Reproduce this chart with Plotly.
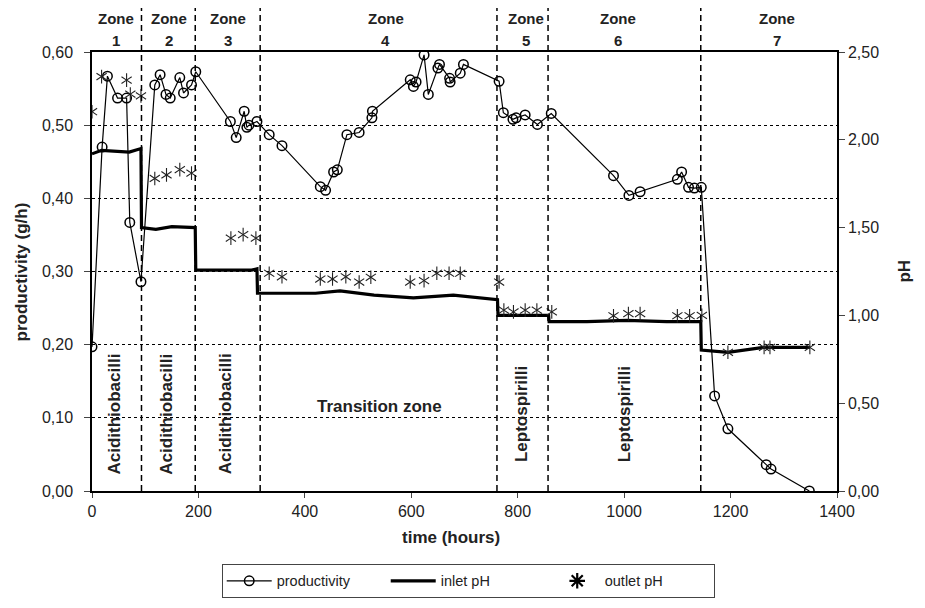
import plotly.graph_objects as go

# ---------------- data ----------------
prod_t = [0, 19, 29, 48, 65, 71, 92, 118, 128, 139, 147, 165, 172, 187, 195,
          260, 271, 286, 291, 295, 310, 333, 357, 429, 439, 454, 461, 479, 502,
          526, 527, 598, 604, 609, 624, 632, 650, 653, 672, 673, 692, 698, 765,
          773, 791, 797, 814, 837, 863, 980, 1009, 1030, 1100, 1108, 1121, 1132,
          1145, 1170, 1195, 1267, 1276, 1348]
prod_v = [0.197, 0.470, 0.567, 0.537, 0.537, 0.367, 0.286, 0.555, 0.569, 0.542,
          0.537, 0.565, 0.544, 0.555, 0.573, 0.505, 0.483, 0.519, 0.497, 0.500,
          0.505, 0.487, 0.472, 0.416, 0.411, 0.436, 0.439, 0.487, 0.490, 0.510,
          0.519, 0.562, 0.553, 0.559, 0.596, 0.542, 0.578, 0.583, 0.564, 0.559,
          0.571, 0.583, 0.560, 0.517, 0.508, 0.510, 0.514, 0.501, 0.516, 0.431,
          0.404, 0.409, 0.426, 0.436, 0.415, 0.414, 0.415, 0.130, 0.085, 0.036,
          0.030, 0.000]

inlet_t = [0, 18, 70, 92, 93, 120, 150, 190, 194, 195, 250, 300, 310, 311, 360,
           420, 466, 530, 604, 679, 762, 763, 800, 858, 859, 930, 1005, 1080,
           1144, 1145, 1195, 1262, 1349]
inlet_v = [1.92, 1.94, 1.93, 1.95, 1.50, 1.49, 1.505, 1.50, 1.50, 1.258, 1.258,
           1.258, 1.265, 1.126, 1.126, 1.126, 1.14, 1.115, 1.10, 1.115, 1.09,
           1.00, 1.00, 1.00, 0.964, 0.964, 0.972, 0.964, 0.964, 0.803, 0.79,
           0.818, 0.818]

out_t = [0, 18, 65, 72, 92, 118, 140, 165, 187, 261, 284, 308, 333, 357, 429,
         452, 477, 502, 524, 598, 624, 648, 671, 692, 765, 774, 792, 814, 836,
         864, 980, 1008, 1030, 1100, 1123, 1146, 1195, 1263, 1274, 1349]
out_v = [2.16, 2.36, 2.34, 2.26, 2.25, 1.78, 1.80, 1.83, 1.81, 1.44, 1.46, 1.44,
         1.24, 1.22, 1.207, 1.207, 1.22, 1.19, 1.217, 1.19, 1.198, 1.24, 1.24,
         1.24, 1.19, 1.03, 1.02, 1.03, 1.03, 1.02, 0.998, 1.01, 1.01, 0.998,
         0.998, 1.00, 0.79, 0.818, 0.818, 0.818]

zone_bounds = [93, 194, 316, 761, 857, 1144]
zone_names = ["1", "2", "3", "4", "5", "6", "7"]
zone_label_t = [45, 145, 255, 552, 815, 988, 1287]

x_ticks = [0, 200, 400, 600, 800, 1000, 1200, 1400]
y1_ticks = [0, 0.1, 0.2, 0.3, 0.4, 0.5, 0.6]
y1_ticktext = ["0,00", "0,10", "0,20", "0,30", "0,40", "0,50", "0,60"]
y2_ticks = [0, 0.5, 1.0, 1.5, 2.0, 2.5]
y2_ticktext = ["0,00", "0,50", "1,00", "1,50", "2,00", "2,50"]

bact_labels = ["Acidithiobacilli", "Acidithiobacilli", "Acidithiobacilli",
               "Leptospirilli", "Leptospirilli"]
bact_t = [42, 140, 250, 806, 1000]

FONT = "Liberation Sans, Arial, Helvetica, sans-serif"
INK = "#222"

fig = go.Figure()
fig.add_trace(go.Scatter(
    x=prod_t, y=prod_v, name="productivity", mode="lines+markers",
    line=dict(color="black", width=1.2),
    marker=dict(symbol="circle-open", size=9.5, color="black",
                line=dict(width=1.5, color="black")),
    yaxis="y"))
fig.add_trace(go.Scatter(
    x=inlet_t, y=inlet_v, name="inlet pH", mode="lines",
    line=dict(color="black", width=3.2), yaxis="y2"))
# outlet pH: six-ray star drawn as two overlapping Y markers
fig.add_trace(go.Scatter(
    x=out_t, y=out_v, name="outlet pH", mode="markers", legendgroup="out",
    showlegend=False,
    marker=dict(symbol="y-up-open", size=8.5, color=INK,
                line=dict(width=1.1, color=INK)),
    yaxis="y2"))
fig.add_trace(go.Scatter(
    x=out_t, y=out_v, name="outlet pH", mode="markers", legendgroup="out",
    showlegend=False,
    marker=dict(symbol="y-down-open", size=8.5, color=INK,
                line=dict(width=1.1, color=INK)),
    yaxis="y2"))
# legend-only entry for outlet pH
fig.add_trace(go.Scatter(
    x=[None], y=[None], name="outlet pH", mode="markers", legendgroup="out",
    marker=dict(symbol="asterisk-open", size=13, color="black",
                line=dict(width=2.2, color="black")),
    yaxis="y2"))

shapes = []
for b in zone_bounds:
    shapes.append(dict(type="line", xref="x", yref="paper", x0=b, x1=b,
                       y0=0, y1=1.107,
                       line=dict(color="black", width=1.5, dash="6px,4px")))

annotations = []
for name, t in zip(zone_names, zone_label_t):
    annotations.append(dict(x=t, y=1.077, xref="x", yref="paper", yanchor="middle",
                            text="<b>Zone</b>", showarrow=False,
                            font=dict(size=15, color=INK, family=FONT)))
    annotations.append(dict(x=t, y=1.027, xref="x", yref="paper", yanchor="middle",
                            text="<b>" + name + "</b>", showarrow=False,
                            font=dict(size=15, color=INK, family=FONT)))
for lab, t in zip(bact_labels, bact_t):
    annotations.append(dict(x=t, y=0.105, xref="x", yref="y", text="<b>" + lab + "</b>",
                            textangle=-90, showarrow=False,
                            font=dict(size=17, color=INK, family=FONT)))
annotations.append(dict(x=541, y=0.116, xref="x", yref="y", text="<b>Transition zone</b>",
                        showarrow=False, font=dict(size=17, color=INK, family=FONT)))
# axis titles
annotations.append(dict(x=-0.094, y=0.5, xref="paper", yref="paper", textangle=-90,
                        xanchor="center", yanchor="middle",
                        text="<b>productivity (g/h)</b>", showarrow=False,
                        font=dict(size=17, color=INK, family=FONT)))
annotations.append(dict(x=1.09, y=0.5, xref="paper", yref="paper", textangle=-90,
                        xanchor="center", yanchor="middle",
                        text="<b>pH</b>", showarrow=False,
                        font=dict(size=17, color=INK, family=FONT)))
annotations.append(dict(x=0.482, y=-0.105, xref="paper", yref="paper",
                        xanchor="center", yanchor="middle",
                        text="<b>time (hours)</b>", showarrow=False,
                        font=dict(size=17, color=INK, family=FONT)))

# page body has an 8px margin: figure sized/placed so the plot lands where the reference has it
fig.update_layout(
    width=909, height=592,
    margin=dict(l=84, r=80, t=44, b=109, autoexpand=False),
    paper_bgcolor="white", plot_bgcolor="white",
    font=dict(family=FONT, size=16, color=INK),
    showlegend=True,
    legend=dict(orientation="h", x=0.505, xanchor="center", y=-0.166, yanchor="top",
                bordercolor="#444", borderwidth=1, font=dict(size=14.5),
                itemwidth=45, entrywidth=104, entrywidthmode="pixels"),
    xaxis=dict(range=[0, 1400], tickvals=x_ticks, ticks="outside", ticklen=5,
               showline=True, linecolor="black", linewidth=2, mirror=True,
               showgrid=False, zeroline=False, automargin=False),
    yaxis=dict(range=[0, 0.6], tickvals=y1_ticks, ticktext=y1_ticktext,
               ticks="outside", ticklen=6, ticklabelstandoff=8,
               showline=True, linecolor="black",
               linewidth=1.5, showgrid=True, gridcolor="black", gridwidth=1,
               griddash="3px,3px", zeroline=False, automargin=False),
    yaxis2=dict(range=[0, 2.5], tickvals=y2_ticks, ticktext=y2_ticktext,
                overlaying="y", side="right", ticks="outside", ticklen=6,
                showline=True, linecolor="black", linewidth=1.5, showgrid=False,
                zeroline=False, automargin=False),
    shapes=shapes, annotations=annotations,
)

fig.write_html("out.html")
